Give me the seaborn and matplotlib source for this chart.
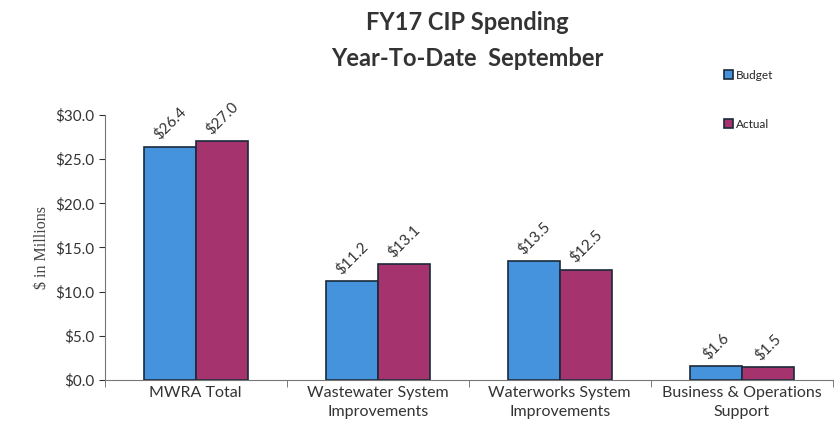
import pandas as pd
import matplotlib.pyplot as plt
import seaborn as sns
from matplotlib.ticker import FuncFormatter, FixedLocator

# Chart data
categories = ['MWRA Total', 'Wastewater System\nImprovements',
              'Waterworks System\nImprovements', 'Business & Operations\nSupport']
budget = [26.4, 11.2, 13.5, 1.6]
actual = [27.0, 13.1, 12.5, 1.5]
series = ['Budget', 'Actual']
colors = ['#4592dd', '#a5346e']

df = pd.DataFrame({
    'Category': categories * 2,
    'Series': ['Budget'] * len(categories) + ['Actual'] * len(categories),
    'Value': budget + actual,
})

sns.set_style('white')
plt.rcParams['font.family'] = ['Lato', 'DejaVu Sans']

fig = plt.figure(figsize=(8.37, 4.4), dpi=100)
ax = fig.add_axes([0.125, 0.136, 0.87, 0.603])

sns.barplot(data=df, x='Category', y='Value', hue='Series', hue_order=series,
            palette=colors, width=0.57, edgecolor='#1a2a3a', linewidth=1.2,
            saturation=1, legend=True, ax=ax)

for cont in ax.containers:
    ax.bar_label(cont, labels=[f'${v:.1f}' for v in cont.datavalues],
                 rotation=45, padding=3, fontsize=11, color='#333333')

ax.set_ylim(0, 30)
ax.set_yticks([0, 5, 10, 15, 20, 25, 30])
ax.yaxis.set_major_formatter(FuncFormatter(lambda v, p: f'${v:.1f}'))
ax.set_xlim(-0.5, len(categories) - 0.5)
ax.set_xlabel('')
ax.set_ylabel('$ in Millions', family='Liberation Serif', fontsize=11.5,
              color='#444444', labelpad=4)
ax.tick_params(axis='y', labelsize=11, colors='#333333', length=4, direction='out', left=True)
ax.tick_params(axis='x', which='major', length=0, labelsize=11.5, colors='#333333', pad=4)
for lbl in ax.get_xticklabels():
    lbl.set_linespacing(1.5)
ax.xaxis.set_minor_locator(FixedLocator([i - 0.5 for i in range(len(categories) + 1)]))
ax.tick_params(axis='x', which='minor', length=5, direction='out', bottom=True, color='#666666')
for s in ['top', 'right']:
    ax.spines[s].set_visible(False)
for s in ['left', 'bottom']:
    ax.spines[s].set_color('#777777')

handles, labels = ax.get_legend_handles_labels()
ax.legend_.remove()
fig.legend(handles, labels, loc='upper left', bbox_to_anchor=(0.852, 0.865),
           frameon=False, fontsize=8.5, handlelength=0.8, handleheight=0.8,
           handletextpad=0.2, labelspacing=3.2)

fig.text(0.558, 0.95, 'FY17 CIP Spending', ha='center', va='center',
         fontsize=17, fontweight='bold', color='#333333')
fig.text(0.558, 0.868, 'Year-To-Date  September', ha='center', va='center',
         fontsize=17, fontweight='bold', color='#333333')

fig.savefig('out.png', dpi=100)
